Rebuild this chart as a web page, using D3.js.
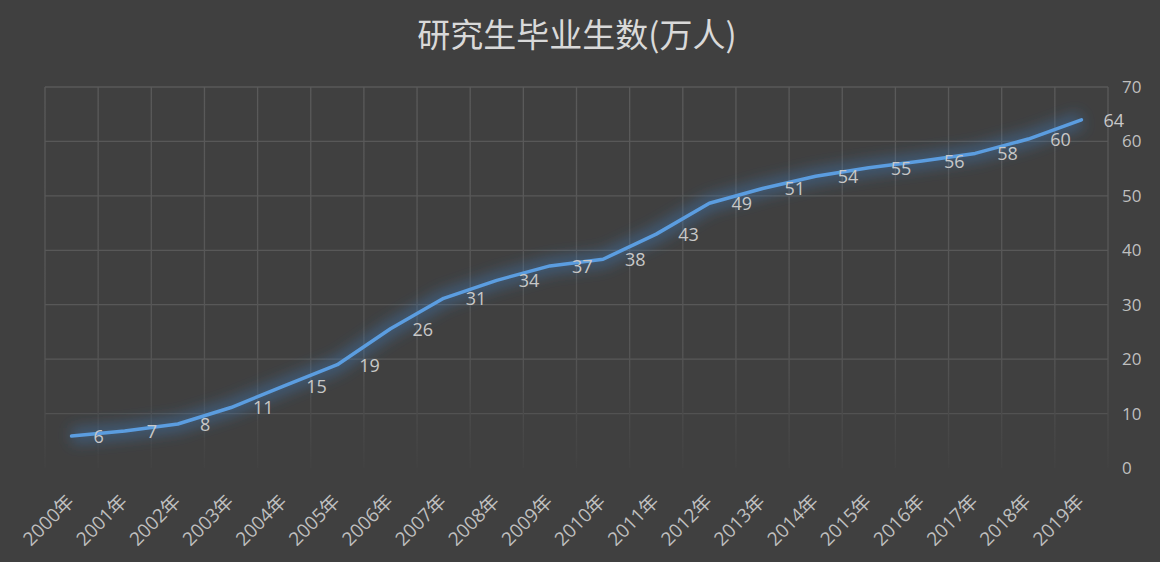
<!DOCTYPE html>
<html><head><meta charset="utf-8">
<script src="https://cdn.jsdelivr.net/npm/d3@7"></script>
<style>
html,body{margin:0;padding:0;background:#404040;}
svg{display:block;}
</style></head>
<body>
<svg id="c" width="1160" height="562"></svg>
<script>
const categories = ["2000年","2001年","2002年","2003年","2004年","2005年","2006年","2007年","2008年","2009年","2010年","2011年","2012年","2013年","2014年","2015年","2016年","2017年","2018年","2019年"];
const values = [5.88,6.78,8.08,11.11,15.08,18.97,25.59,31.18,34.48,37.13,38.36,42.97,48.65,51.36,53.59,55.15,56.39,57.80,60.44,63.97];
const yTicks = [0,10,20,30,40,50,60,70];
const title = "研究生毕业生数(万人)";

const W = 1160, H = 562;
const m = {left:45, right:52, top:87, bottom:94};
const svg = d3.select("#c");
svg.append("rect").attr("width",W).attr("height",H).attr("fill","#404040");

const defs = svg.append("defs");
const grad = defs.append("linearGradient").attr("id","vg")
  .attr("gradientUnits","userSpaceOnUse").attr("x1",0).attr("x2",0).attr("y1",m.top).attr("y2",H-m.bottom);
grad.append("stop").attr("offset","0%").attr("stop-color","#5a5a5a");
grad.append("stop").attr("offset","70%").attr("stop-color","#555555");
grad.append("stop").attr("offset","100%").attr("stop-color","#424242");
const glow = defs.append("filter").attr("id","glow").attr("x","-10%").attr("y","-30%").attr("width","120%").attr("height","160%");
glow.append("feGaussianBlur").attr("stdDeviation",7);

const x = d3.scaleBand().domain(categories).range([m.left, W-m.right]).padding(0);
const y = d3.scaleLinear().domain([0,70]).range([H-m.bottom, m.top]);

// horizontal gridlines
svg.append("g").selectAll("line").data(yTicks.filter(d=>d>0)).join("line")
  .attr("x1",m.left).attr("x2",W-m.right)
  .attr("y1",d=>y(d)).attr("y2",d=>y(d))
  .attr("stroke",d=>d>=20?"#585858":"#525252").attr("stroke-width",1.3);

// vertical gridlines
const edges = categories.map(c=>x(c)).concat([x(categories[categories.length-1])+x.bandwidth()]);
svg.append("g").selectAll("line").data(edges).join("line")
  .attr("x1",d=>d).attr("x2",d=>d).attr("y1",m.top).attr("y2",H-m.bottom)
  .attr("stroke","url(#vg)").attr("stroke-width",1.3);

// right axis labels
svg.append("g").selectAll("text").data(yTicks).join("text")
  .attr("x",W-m.right+14).attr("y",d=>y(d)).attr("dy","0.35em")
  .attr("fill","#bfbfbf").attr("font-family","'Open Sans','Noto Sans',sans-serif").attr("font-size",17)
  .text(d=>d);

// x axis labels
svg.append("g").selectAll("text").data(categories).join("text")
  .attr("transform",d=>`translate(${x(d)+x.bandwidth()/2-1},${H-m.bottom+30}) rotate(-45)`)
  .attr("text-anchor","end").attr("dy","0.35em")
  .attr("fill","#bfbfbf").attr("font-family","'Open Sans','Noto Sans CJK SC',sans-serif").attr("font-size",19)
  .text(d=>d);

const line = d3.line().x((d,i)=>x(categories[i])+x.bandwidth()/2).y(d=>y(d));
svg.append("path").datum(values).attr("d",line).attr("fill","none")
  .attr("stroke","#3f7fc4").attr("stroke-opacity",0.4).attr("stroke-width",16)
  .attr("stroke-linejoin","round").attr("filter","url(#glow)");
svg.append("path").datum(values).attr("d",line).attr("fill","none")
  .attr("stroke","#5b9de0").attr("stroke-width",3.5).attr("stroke-linejoin","round").attr("stroke-linecap","round");

// data labels
svg.append("g").selectAll("text").data(values).join("text")
  .attr("x",(d,i)=>x(categories[i])+x.bandwidth()/2+22).attr("y",d=>y(d)).attr("dy","0.38em")
  .attr("fill","#c8c8c8").attr("font-family","'Open Sans','Noto Sans',sans-serif").attr("font-size",18)
  .text(d=>d3.format(".0f")(d));

// title
svg.append("text").attr("x",577).attr("y",35).attr("dy","0.35em").attr("text-anchor","middle")
  .attr("fill","#d9d9d9").attr("font-family","'Noto Sans CJK SC',sans-serif").attr("font-size",33)
  .text(title);
</script>
</body></html>
